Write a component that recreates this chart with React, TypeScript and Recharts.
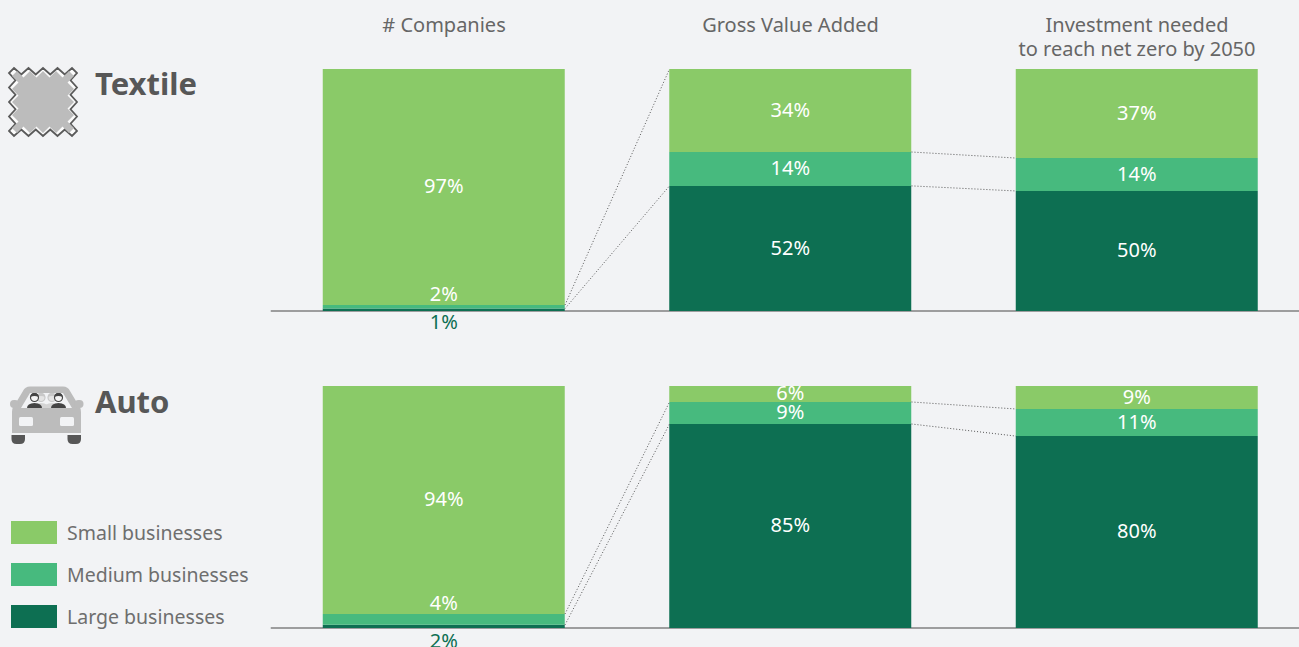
import { BarChart, Bar, XAxis, YAxis, ReferenceLine, LabelList } from "recharts";

const categories = ["# Companies", "Gross Value Added", "Investment needed\nto reach net zero by 2050"];

// bar shares as measured on the picture; printed labels are rounded and kept apart
const textileSmall = [97.5, 34.3, 36.8];
const textileMedium = [1.5, 14, 13.6];
const textileLarge = [1, 51.7, 49.6];
const textileSmallLabels = ["97%", "34%", "37%"];
const textileMediumLabels = ["2%", "14%", "14%"];
const textileLargeLabels = ["1%", "52%", "50%"];

const autoSmall = [94.2, 6.6, 9.5];
const autoMedium = [4.5, 9.1, 11.2];
const autoLarge = [1.3, 84.3, 79.3];
const autoSmallLabels = ["94%", "6%", "9%"];
const autoMediumLabels = ["4%", "9%", "11%"];
const autoLargeLabels = ["2%", "85%", "80%"];

const SMALL = "#8aca68";
const MEDIUM = "#47ba7e";
const LARGE = "#0d6f52";
const BG = "#f2f3f5";
const FONT = "'Noto Sans', sans-serif";

const legendItems = [
  { name: "Small businesses", color: SMALL, top: 521 },
  { name: "Medium businesses", color: MEDIUM, top: 563 },
  { name: "Large businesses", color: LARGE, top: 605 },
];

const buildRows = (
  small: number[],
  medium: number[],
  large: number[],
  smallLabels: string[],
  mediumLabels: string[],
  largeLabels: string[],
) =>
  categories.map((category, i) => ({
    category,
    s: small[i],
    m: medium[i],
    l: large[i],
    sLabel: smallLabels[i],
    // the first column is too thin, so its labels sit outside the segment
    mLabel: i === 0 ? null : mediumLabels[i],
    lLabel: i === 0 ? null : largeLabels[i],
    mOuter: i === 0 ? mediumLabels[i] : null,
    lOuter: i === 0 ? largeLabels[i] : null,
  }));

const textileRows = buildRows(textileSmall, textileMedium, textileLarge, textileSmallLabels, textileMediumLabels, textileLargeLabels);
const autoRows = buildRows(autoSmall, autoMedium, autoLarge, autoSmallLabels, autoMediumLabels, autoLargeLabels);

// height of the stack up to a level (1 large, 2 large+medium, 3 all) as a 0-1 share
const stackTop = (parts: number[][], col: number, level: number) => {
  const total = parts[0][col] + parts[1][col] + parts[2][col];
  let sum = 0;
  for (let k = 0; k < level; k++) sum += parts[k][col];
  return sum / total;
};

const textileParts = [textileLarge, textileMedium, textileSmall];
const autoParts = [autoLarge, autoMedium, autoSmall];

// [from column, from level, to level]; each runs from a bar's right edge to the next bar's left edge
const textileLinks = [
  [0, 2, 3],
  [0, 1, 1],
  [1, 2, 2],
  [1, 1, 1],
];
const autoLinks = [
  [0, 2, 2],
  [0, 1, 1],
  [1, 2, 2],
  [1, 1, 1],
];

const barWidth = 242;
const bandWidth = 346.5;
const edge = barWidth / bandWidth / 2;

const HeadingTick = (props: any) => {
  const lines = String(props.payload.value).split("\n");
  return (
    <text x={props.x} textAnchor="middle" fontSize={20} fontFamily={FONT} fill="#666">
      {lines.map((t, i) => (
        <tspan key={i} x={props.x} y={32 + i * 24}>
          {t}
        </tspan>
      ))}
    </text>
  );
};

const labelStyle = { fontSize: 20, fontFamily: FONT };

type RowProps = {
  rows: ReturnType<typeof buildRows>;
  parts: number[][];
  links: number[][];
  height: number;
  marginTop: number;
  marginBottom: number;
  outerGap: number;
  headings?: boolean;
};

const Row = ({ rows, parts, links, height, marginTop, marginBottom, outerGap, headings }: RowProps) => (
  <BarChart
    width={1312}
    height={height}
    data={rows}
    stackOffset="expand"
    barSize={barWidth}
    margin={{ top: headings ? 0 : marginTop, right: 1.75, bottom: marginBottom - 1, left: 270.75 }}
  >
    <XAxis dataKey="category" height={1} tick={false} tickLine={false} axisLine={{ stroke: "#808080", strokeWidth: 1.5 }} zIndex={100} />
    {headings && (
      <XAxis
        xAxisId="head"
        dataKey="category"
        orientation="top"
        height={marginTop}
        tick={<HeadingTick />}
        tickLine={false}
        axisLine={false}
        interval={0}
      />
    )}
    <XAxis xAxisId="link" dataKey="s" type="number" scale="linear" domain={[0, 3]} allowDataOverflow hide />
    <YAxis hide domain={[0, 1]} width={0} />
    <Bar dataKey="l" stackId="a" fill={LARGE} isAnimationActive={false}>
      <LabelList dataKey="lLabel" position="center" dy={-1} fill="#fff" style={labelStyle} />
      <LabelList dataKey="lOuter" position="bottom" offset={outerGap} fill={LARGE} style={labelStyle} />
    </Bar>
    <Bar dataKey="m" stackId="a" fill={MEDIUM} isAnimationActive={false}>
      <LabelList dataKey="mLabel" position="center" dy={-1} fill="#fff" style={labelStyle} />
      <LabelList dataKey="mOuter" position="top" offset={4} fill="#fff" style={labelStyle} />
    </Bar>
    <Bar dataKey="s" stackId="a" fill={SMALL} isAnimationActive={false}>
      <LabelList dataKey="sLabel" position="center" dy={-1} fill="#fff" style={labelStyle} />
    </Bar>
    {links.map(([col, from, to], i) => (
      <ReferenceLine
        key={i}
        xAxisId="link"
        stroke="#555"
        strokeWidth={1}
        strokeDasharray="1 2"
        segment={[
          { x: col + 0.5 + edge, y: stackTop(parts, col, from) },
          { x: col + 1.5 - edge, y: stackTop(parts, col + 1, to) },
        ]}
      />
    ))}
  </BarChart>
);

// zigzag swatch outline inside a 68px box: five teeth per side, joined across the corners
const zigzag = (inset: number) => {
  const amp = 6.5;
  const lo = inset + 5;
  const step = (68 - 2 * lo) / 4;
  const pts: string[] = [];
  const far = 68 - inset;
  for (let k = 0; k < 5; k++) {
    pts.push(`${lo + k * step},${inset}`);
    if (k < 4) pts.push(`${lo + (k + 0.5) * step},${inset + amp}`);
  }
  for (let k = 0; k < 5; k++) {
    pts.push(`${far},${lo + k * step}`);
    if (k < 4) pts.push(`${far - amp},${lo + (k + 0.5) * step}`);
  }
  for (let k = 0; k < 5; k++) {
    pts.push(`${68 - lo - k * step},${far}`);
    if (k < 4) pts.push(`${68 - lo - (k + 0.5) * step},${far - amp}`);
  }
  for (let k = 0; k < 5; k++) {
    pts.push(`${inset},${68 - lo - k * step}`);
    if (k < 4) pts.push(`${inset + amp},${68 - lo - (k + 0.5) * step}`);
  }
  return pts.join(" ");
};

const TextileIcon = () => (
  <svg width={72} height={72} viewBox="-2 -2 72 72" style={{ position: "absolute", left: 7, top: 66 }}>
    <polygon points={zigzag(0)} fill="#fbfbfb" stroke="#5a5a5a" strokeWidth={1.8} />
    <polygon points={zigzag(3)} fill="#bcbcbc" />
  </svg>
);

const Person = ({ x, dark }: { x: number; dark: boolean }) => (
  <g>
    <path d={`M${x - 7.500} 22 q0 -4.500 7.500 -5 q7.500 0.5 7.500 5 z`} fill={dark ? "#444" : "#d4d4d4"} />
    <circle cx={x} cy={11.5} r={4} fill={dark ? "#f4f4f4" : "#e4e4e4"} stroke={dark ? "#444" : "#c8c8c8"} strokeWidth={1.2} />
    <path d={`M${x - 4} 11 a4 4 0 0 1 8 0 q-4 -2 -8 0 z`} fill={dark ? "#444" : "#c8c8c8"} />
  </g>
);

const CarIcon = () => (
  <svg width={74} height={60} viewBox="0 0 74 60" style={{ position: "absolute", left: 10, top: 386 }}>
    <path d="M20 0.5 H53 Q58 0.5 60 5 L66 15 Q71 20 71 26 V47 H2 V26 Q2 20 7 15 L13 5 Q15 0.5 20 0.5 Z" fill="#bcbcbc" />
    <rect x={0} y={14} width={9} height={8} rx={4} fill="#bcbcbc" />
    <rect x={64.500} y={14} width={9} height={8} rx={4} fill="#bcbcbc" />
    <path d="M20 7 H53 L62 22 H11 Z" fill={BG} />
    <Person x={31} dark={false} />
    <Person x={42} dark={false} />
    <Person x={24.500} dark />
    <Person x={48.500} dark />
    <rect x={9} y={31} width={14} height={9} rx={1.5} fill={BG} />
    <rect x={50} y={31} width={14} height={9} rx={1.5} fill={BG} />
    <path d="M1.500 49 H15 V53 Q15 58 10 58 H6.500 Q1.500 58 1.500 53 Z" fill="#575757" />
    <path d="M57.500 49 H71 V53 Q71 58 66 58 H62.500 Q57.500 58 57.500 53 Z" fill="#575757" />
  </svg>
);

const Title = ({ text, top }: { text: string; top: number }) => (
  <div style={{ position: "absolute", left: 95, top, fontFamily: FONT, fontWeight: 700, fontSize: 31, lineHeight: "36px", color: "#575757" }}>
    {text}
  </div>
);

export default function App() {
  return (
    <div style={{ position: "absolute", left: 0, top: 0, width: 1299, height: 647, overflow: "hidden", background: BG }}>
      <div style={{ position: "absolute", left: 0, top: 0 }}>
        <Row rows={textileRows} parts={textileParts} links={textileLinks} height={340} marginTop={69} marginBottom={29} outerGap={4} headings />
      </div>
      <div style={{ position: "absolute", left: 0, top: 340 }}>
        <Row rows={autoRows} parts={autoParts} links={autoLinks} height={307} marginTop={46} marginBottom={19} outerGap={6} />
      </div>
      <TextileIcon />
      <Title text="Textile" top={65} />
      <CarIcon />
      <Title text="Auto" top={383} />
      {legendItems.map((item) => (
        <div key={item.name}>
          <div style={{ position: "absolute", left: 11, top: item.top, width: 46, height: 23, background: item.color }} />
          <div style={{ position: "absolute", left: 67, top: item.top - 0.5, fontFamily: FONT, fontSize: 19.5, lineHeight: "24px", color: "#6e6e6e" }}>
            {item.name}
          </div>
        </div>
      ))}
    </div>
  );
}
